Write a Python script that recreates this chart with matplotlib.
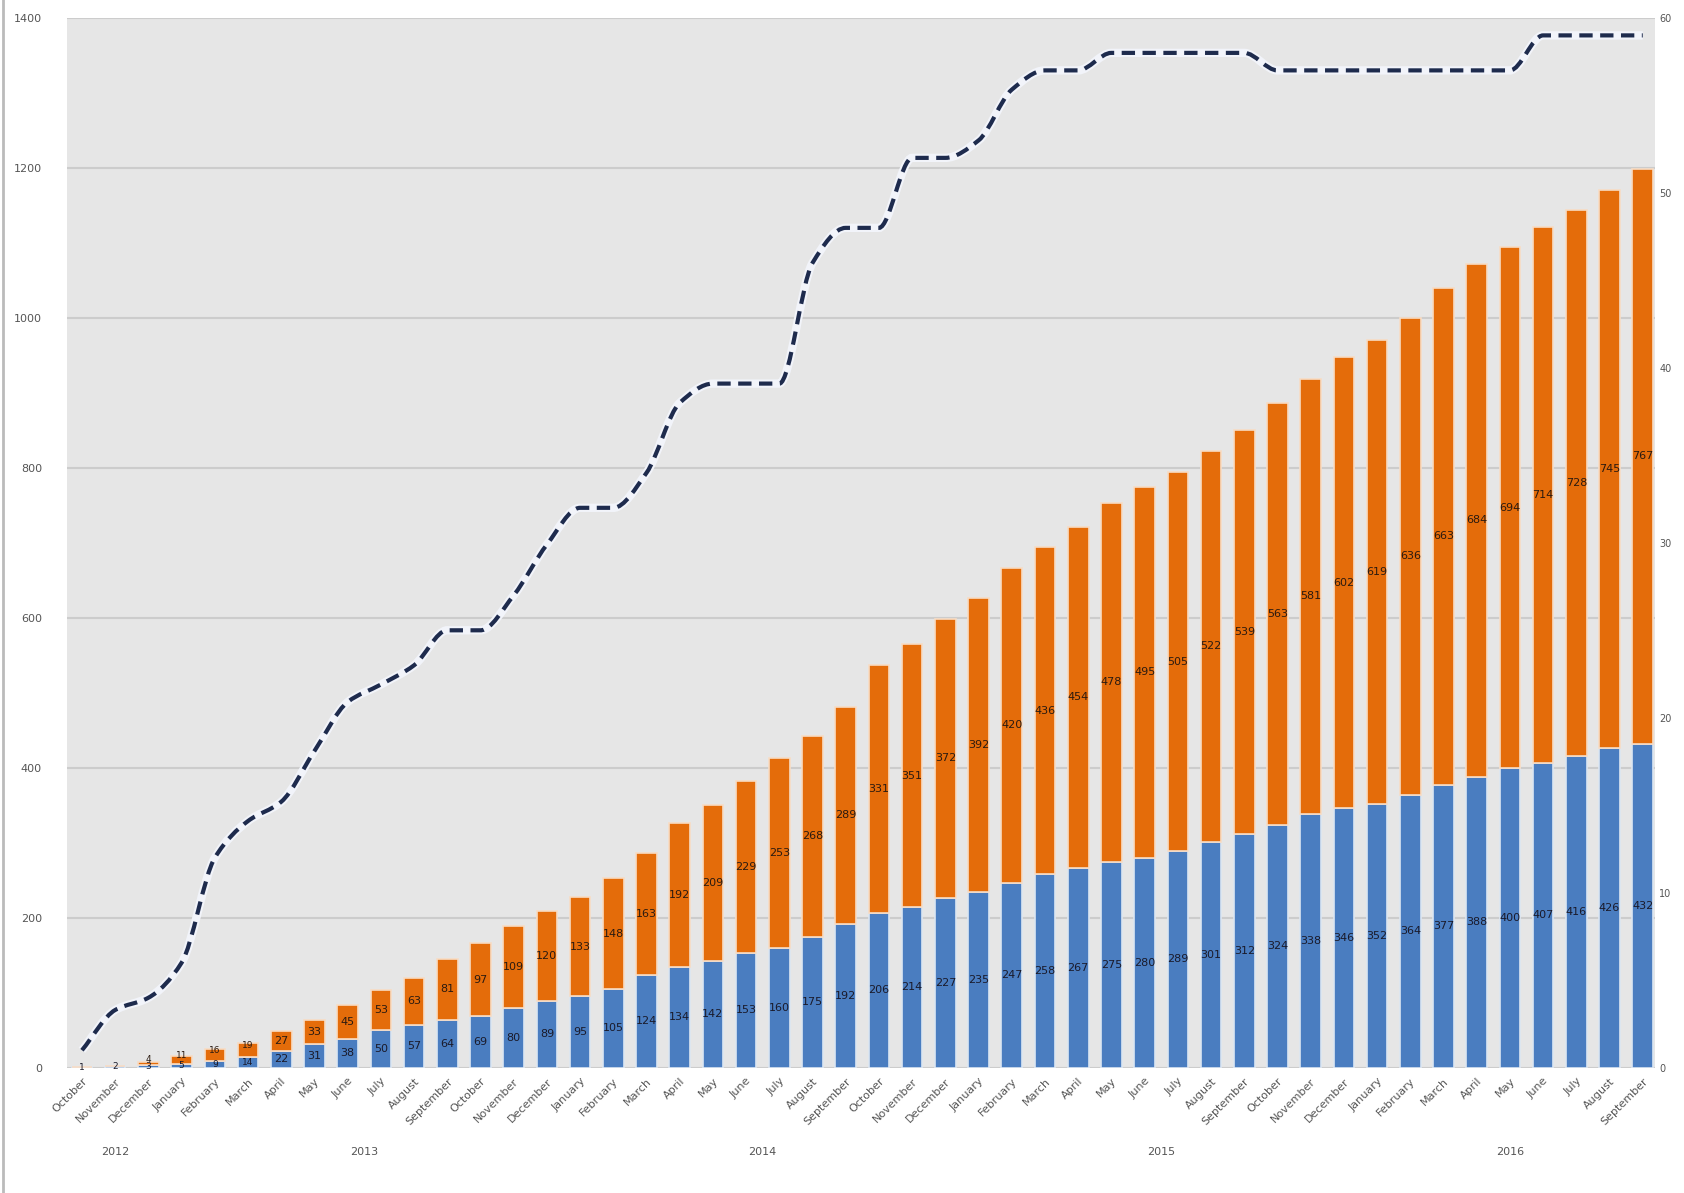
import matplotlib
matplotlib.use("Agg")
import matplotlib.pyplot as plt
from matplotlib.path import Path
from matplotlib.patches import PathPatch
import numpy as np

# ---------------- data ----------------
month_names = ["October", "November", "December",
               "January", "February", "March", "April", "May", "June", "July",
               "August", "September", "October", "November", "December",
               "January", "February", "March", "April", "May", "June", "July",
               "August", "September", "October", "November", "December",
               "January", "February", "March", "April", "May", "June", "July",
               "August", "September", "October", "November", "December",
               "January", "February", "March", "April", "May", "June", "July",
               "August", "September"]
years = ["2012", "2013", "2014", "2015", "2016"]
year_sizes = [3, 12, 12, 12, 9]

blue = [1, 2, 3, 5, 9, 14, 22, 31, 38, 50, 57, 64, 69, 80, 89, 95, 105, 124,
        134, 142, 153, 160, 175, 192, 206, 214, 227, 235, 247, 258, 267, 275,
        280, 289, 301, 312, 324, 338, 346, 352, 364, 377, 388, 400, 407, 416,
        426, 432]
orange = [0, 0, 4, 11, 16, 19, 27, 33, 45, 53, 63, 81, 97, 109, 120, 133, 148,
          163, 192, 209, 229, 253, 268, 289, 331, 351, 372, 392, 420, 436, 454,
          478, 495, 505, 522, 539, 563, 581, 602, 619, 636, 663, 684, 694, 714,
          728, 745, 767]
line_vals = [1.0, 3.3, 4.0, 6.0, 12.0, 14.1, 15.2, 18.1, 20.9, 21.9, 23.0,
             25.0, 25.0, 27.0, 29.9, 32.0, 32.0, 34.0, 38.0, 39.1, 39.1, 39.1,
             46.0, 48.0, 48.0, 52.0, 52.0, 53.0, 55.9, 57.0, 57.0, 58.0, 58.0,
             58.0, 58.0, 58.0, 57.0, 57.0, 57.0, 57.0, 57.0, 57.0, 57.0, 57.0,
             59.0, 59.0, 59.0, 59.0]
left_ticks = [0, 200, 400, 600, 800, 1000, 1200, 1400]
right_ticks = [0, 10, 20, 30, 40, 50, 60]

BLUE = "#4A7DC0"
ORANGE = "#E46C0A"
NAVY = "#1E2B4D"

fig = plt.figure(figsize=(16.84, 11.93), dpi=100)
fig.patch.set_facecolor("white")
ax = fig.add_axes([0.0398, 0.105, 0.943, 0.880])
ax.set_facecolor("#E6E6E6")

x = np.arange(len(blue))
w = 0.62
ax.bar(x, blue, width=w, color=BLUE, zorder=3, edgecolor="#DCE6F2", linewidth=1.2)
ax.bar(x, orange, width=w, bottom=blue, color=ORANGE, zorder=3,
       edgecolor="#F8DCC4", linewidth=1.2)

for i in range(len(blue)):
    fs = 8 if (blue[i] + orange[i]) > 40 else 6.5
    if blue[i] > 0:
        ax.text(x[i], blue[i] / 2, str(blue[i]), ha="center", va="center",
                fontsize=fs, color="#1a1a2a", zorder=5)
    if orange[i] > 0:
        ax.text(x[i], blue[i] + orange[i] / 2 + (6 if fs < 8 else 0),
                str(orange[i]), ha="center", va="center", fontsize=fs,
                color="#2a1a10", zorder=5)

ax.set_ylim(0, 1400)
ax.set_xlim(-0.45, len(blue) - 1 + 0.37)
ax.set_yticks(left_ticks)
ax.set_yticklabels([str(t) for t in left_ticks], fontsize=8, color="#555555")
ax.yaxis.grid(True, color="#CCCCCC", linewidth=1.5, zorder=0)
ax.set_axisbelow(True)
ax.tick_params(axis="both", length=0)
ax.tick_params(axis="y", pad=18)
for s in ax.spines.values():
    s.set_visible(False)

ax.set_xticks(x)
ax.set_xticklabels(month_names, rotation=45, ha="right", rotation_mode="anchor",
                   fontsize=8, color="#555555")
ax.tick_params(axis="x", pad=6)

# year labels centered under groups
start = 0
for yr, n in zip(years, year_sizes):
    center = start + (n - 1) / 2
    ax.text(center, -0.08, yr, transform=ax.get_xaxis_transform(),
            ha="center", va="center", fontsize=8, color="#555555")
    start += n

# secondary axis with smoothed dashed line
ax2 = ax.twinx()
ax2.set_ylim(0, 60)
ax2.set_yticks(right_ticks)
ax2.set_yticklabels([str(t) for t in right_ticks], fontsize=7, color="#555555")
ax2.tick_params(axis="y", length=0, pad=3)
for s in ax2.spines.values():
    s.set_visible(False)

# monotone cubic (no overshoot) drawn as Bezier segments
px = x.astype(float)
py = np.array(line_vals, dtype=float)
n = len(px)
sec = np.diff(py) / np.diff(px)
m = np.zeros(n)
m[0], m[-1] = sec[0], sec[-1]
for i in range(1, n - 1):
    if sec[i - 1] * sec[i] <= 0:
        m[i] = 0.0
    else:
        m[i] = 2.0 / (1.0 / sec[i - 1] + 1.0 / sec[i])
verts = [(px[0], py[0])]
codes = [Path.MOVETO]
for i in range(n - 1):
    dx = px[i + 1] - px[i]
    verts += [(px[i] + dx / 3, py[i] + m[i] * dx / 3),
              (px[i + 1] - dx / 3, py[i + 1] - m[i + 1] * dx / 3),
              (px[i + 1], py[i + 1])]
    codes += [Path.CURVE4] * 3
path = Path(verts, codes)
glow = PathPatch(path, facecolor="none", edgecolor="#F2F4FA", linewidth=6,
                 zorder=4, capstyle="butt")
ax2.add_patch(glow)
line = PathPatch(path, facecolor="none", edgecolor=NAVY, linewidth=3.0,
                 linestyle=(0, (3.2, 1.8)), zorder=5, capstyle="butt")
ax2.add_patch(line)

# thin grey border on the left edge of the picture
fig.add_artist(plt.Line2D([0.0015, 0.0015], [0, 1], transform=fig.transFigure,
                          color="#BBBBBB", linewidth=2))

fig.savefig("out.png", dpi=100, facecolor="white")
